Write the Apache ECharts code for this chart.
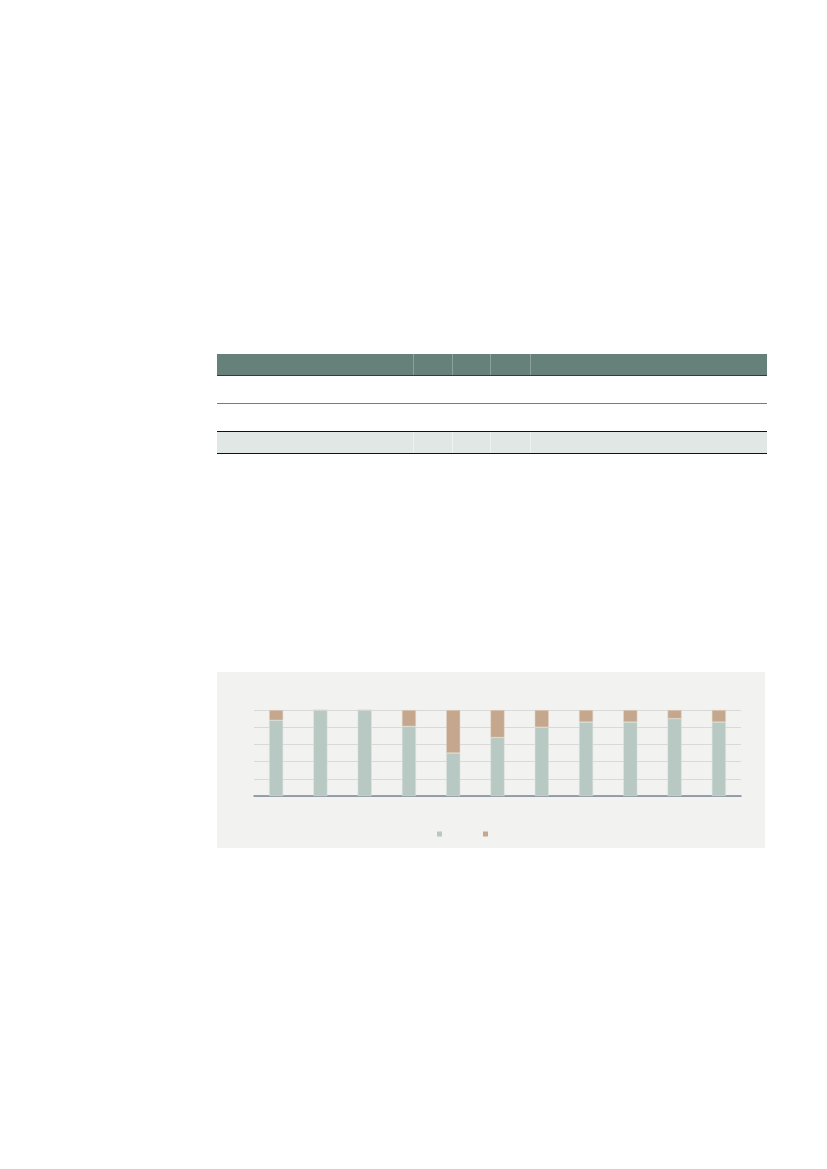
<!DOCTYPE html>
<html>
<head>
<meta charset="utf-8">
<script src="https://cdn.jsdelivr.net/npm/echarts@6/dist/echarts.min.js"></script>
<style>
  html, body { margin: 0; padding: 0; background: #fff; }
  body { width: 827px; height: 1169px; position: relative; overflow: hidden; font-family: "Noto Sans", sans-serif; }
  .tbl { position: absolute; left: 217px; width: 550px; }
  .hdr { top: 354px; height: 21px; background: #66807a; border-bottom: 1px solid #3a3a3a; }
  .row1 { top: 376px; height: 27px; border-bottom: 1px solid #7a7a7a; }
  .row3 { top: 431px; height: 21px; background: #e1e7e4; border-top: 1px solid #111; border-bottom: 1px solid #111; }
  .vsep { position: absolute; top: 0; bottom: 0; width: 1px; }
  .hdr .vsep { background: #8da19c; }
  .row3 .vsep { background: #eef2f0; }
  #main { position: absolute; left: 217px; top: 672px; width: 548px; height: 176px; }
</style>
</head>
<body>
<div class="tbl hdr" id="hdr"></div>
<div class="tbl row1"></div>
<div class="tbl row3" id="row3"></div>
<div id="main"></div>
<script>
// categorías (sin etiquetas visibles en la imagen)
var categorias = ['1', '2', '3', '4', '5', '6', '7', '8', '9', '10', '11'];
// porcentaje de cada parte de la barra apilada
var valoresA = [88, 100, 100, 81, 50, 68, 80, 86, 86, 90, 86];
var valoresB = [12, 0, 0, 19, 50, 32, 20, 14, 14, 10, 14];
var nombresSeries = ['A', 'B'];
var ticksY = [0, 20, 40, 60, 80, 100];

// separadores verticales de la tabla (posición desde el borde izquierdo)
var separadores = [196, 235, 273, 313];
['hdr', 'row3'].forEach(function (id) {
  var fila = document.getElementById(id);
  separadores.forEach(function (x) {
    var d = document.createElement('div');
    d.className = 'vsep';
    d.style.left = x + 'px';
    fila.appendChild(d);
  });
});

var chart = echarts.init(document.getElementById('main'));

var option = {
  backgroundColor: '#f2f2f0',
  animation: false,
  grid: {
    left: 37,
    right: 24,
    top: 38,
    bottom: 52
  },
  legend: {
    data: nombresSeries,
    left: 220,
    top: 159.5,
    padding: 0,
    itemWidth: 5,
    itemHeight: 5,
    itemGap: 41,
    icon: 'rect',
    itemStyle: { borderWidth: 0 },
    formatter: function () { return ''; },
    selectedMode: false
  },
  xAxis: {
    type: 'category',
    data: categorias,
    axisTick: { show: false },
    axisLabel: { show: false },
    axisLine: { lineStyle: { color: '#7b8694', width: 1.5 } }
  },
  yAxis: {
    type: 'value',
    min: ticksY[0],
    max: ticksY[ticksY.length - 1],
    interval: 20,
    axisLabel: { show: false },
    axisLine: { show: false },
    axisTick: { show: false },
    splitLine: { lineStyle: { color: '#d9d9d9', width: 1 } }
  },
  series: [
    {
      name: nombresSeries[0],
      type: 'bar',
      stack: 'total',
      data: valoresA,
      barWidth: 14,
      itemStyle: { color: '#b8c8c2', borderColor: '#dde4e1', borderWidth: 0.5 }
    },
    {
      name: nombresSeries[1],
      type: 'bar',
      stack: 'total',
      data: valoresB,
      barWidth: 14,
      itemStyle: { color: '#c4a78c', borderColor: '#e3d6ca', borderWidth: 0.5 }
    }
  ]
};

chart.setOption(option);
</script>
</body>
</html>
